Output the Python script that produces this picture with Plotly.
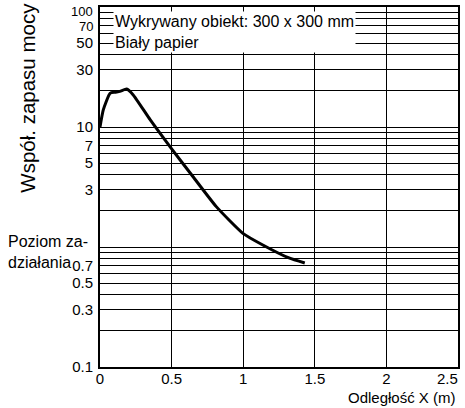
import plotly.graph_objects as go

# Data
x_dist = [0.0, 0.023, 0.07, 0.104, 0.139, 0.186, 0.232, 0.35, 0.499, 0.65, 0.812, 0.998, 1.137, 1.32, 1.43]
margin_vals = [10.0, 13.9, 19.1, 19.5, 19.8, 20.7, 18.5, 11.5, 6.6, 3.85, 2.17, 1.3, 1.04, 0.81, 0.735]

y_tickvals = [0.1, 0.3, 0.5, 0.7, 3, 5, 7, 10, 30, 50]
y_ticktext = ["0.1", "0.3", "0.5", "0.7", "3", "5", "7", "10", "30", "50"]
y_small_vals = [100, 70]
y_small_text = ["100", "70"]
x_tickvals = [0, 0.5, 1, 1.5, 2]
x_ticktext = ["0", "0.5", "1", "1.5", "2"]
x_end_label = "2.5"
minor_grid = [m * d for d in (0.1, 1, 10) for m in range(1, 10)] + [100]

FONT = "Liberation Sans, Arial, sans-serif"

fig = go.Figure()
fig.add_trace(go.Scatter(x=x_dist, y=margin_vals, mode="lines",
                         line=dict(color="black", width=3, shape="spline", smoothing=0.5),
                         showlegend=False, hoverinfo="skip"))

fig.update_layout(
    width=465, height=408,
    margin=dict(l=100, r=5, t=7, b=41),
    paper_bgcolor="white", plot_bgcolor="white",
    font=dict(family=FONT, color="black", size=15),
)
fig.update_xaxes(
    range=[0, 2.5], tickvals=x_tickvals, ticktext=x_ticktext,
    showgrid=True, gridcolor="black", gridwidth=1,
    showline=True, linecolor="black", linewidth=2, mirror=True,
    ticks="", zeroline=False, tickfont=dict(size=15), ticklabelstandoff=-3,
)
fig.update_yaxes(
    type="log", range=[-1, 2], tickvals=y_tickvals, ticktext=y_ticktext,
    showgrid=True, gridcolor="black", gridwidth=1,
    minor=dict(tickvals=minor_grid, showgrid=True, gridcolor="black", gridwidth=1, ticks=""),
    showline=True, linecolor="black", linewidth=2, mirror=True,
    ticks="", zeroline=False, tickfont=dict(size=15), ticklabelstandoff=2,
)

# top tick labels drawn smaller and nudged, as in the reference
fig.add_annotation(text=y_small_text[0], xref="paper", yref="paper", x=-0.014, y=0.9885,
                   xanchor="right", yanchor="middle", showarrow=False, font=dict(size=13))
fig.add_annotation(text=y_small_text[1], xref="paper", yref="y", x=-0.014, y=1.845,
                   xanchor="right", yanchor="middle", yshift=-1, showarrow=False, font=dict(size=13))
fig.add_annotation(text=x_end_label, xref="paper", yref="paper", x=0.97, y=-0.031,
                   xanchor="center", yanchor="middle", showarrow=False, font=dict(size=15))

fig.add_annotation(text="Wykrywany obiekt: 300 x 300 mm<br>Biały papier",
                   xref="paper", yref="paper", x=0.036, y=0.99,
                   xanchor="left", yanchor="top", align="left", showarrow=False,
                   bgcolor="white", borderpad=1, font=dict(size=16))
fig.add_annotation(text="Poziom za-<br>działania", xref="paper", yref="y",
                   x=-0.263, y=0, xanchor="left", yanchor="middle", align="left",
                   yshift=-5, showarrow=False, font=dict(size=16))
fig.add_annotation(text="Współ. zapasu mocy", xref="paper", yref="paper",
                   x=-0.205, y=0.747, textangle=-90, xanchor="center", yanchor="middle",
                   showarrow=False, font=dict(size=20.5))
fig.add_annotation(text="Odległość X (m)", xref="paper", yref="paper",
                   x=1.0, y=-0.084, xanchor="right", yanchor="middle",
                   showarrow=False, font=dict(size=15))

fig.write_html("out.html")
